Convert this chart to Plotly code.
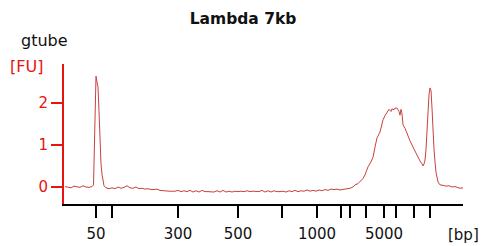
import plotly.graph_objects as go

# migration-time index (arbitrary units) and fluorescence [FU]
time_idx = [1, 4, 7, 10, 13, 16, 19, 22, 25, 28, 29.5,
            30, 30.5, 31, 32, 33, 34, 35, 36, 37, 38, 39, 40, 42, 45,
            48, 51, 54, 57, 60, 63, 66, 69, 72, 75, 78, 81, 84, 87, 90, 93, 96, 99,
            102, 105, 108, 111, 114, 117, 120, 123, 126, 129, 132, 135, 138, 141,
            144, 147, 150, 153, 156, 159, 162, 165, 168, 171, 174, 177, 180, 183,
            186, 189, 192, 195, 198, 201, 204, 207, 210, 213, 216, 219, 222, 225,
            228, 231, 234, 237, 240, 243, 246, 249, 252, 255, 258, 261, 264, 267,
            270, 273, 276, 280, 283, 286, 289, 291, 294, 296, 299, 301, 304, 307,
            309, 311, 313, 316, 319, 321, 323, 325, 327, 328, 330, 331, 333, 335,
            336, 337, 338, 339, 341, 344, 346, 349, 351, 354, 356, 358, 359, 360,
            361, 362, 363, 364, 365, 366, 367, 368, 369, 370, 371, 372, 374, 376,
            379, 382, 385, 388, 391, 394, 396, 398, 399]
fu = [0.01, 0.0, -0.02, 0.02, 0.01, -0.01, 0.03, 0.0, -0.01, 0.01, 0.05,
      0.6, 1.6, 2.2, 2.64, 2.5, 2.38, 1.8, 0.95, 0.55, 0.3, 0.12, 0.03, -0.02, -0.04,
      -0.02, -0.04, 0.0, -0.03, -0.01, 0.03, -0.02, -0.03, 0.0, -0.04, -0.03, -0.05, -0.04, -0.06, -0.06, -0.05, -0.08, -0.09,
      -0.1, -0.1, -0.1, -0.1, -0.08, -0.11, -0.09, -0.11, -0.08, -0.12, -0.09, -0.12, -0.08, -0.11,
      -0.11, -0.11, -0.12, -0.09, -0.12, -0.08, -0.12, -0.1, -0.12, -0.1, -0.11, -0.1, -0.11, -0.09,
      -0.11, -0.1, -0.1, -0.11, -0.08, -0.12, -0.09, -0.12, -0.09, -0.11, -0.11, -0.1, -0.12, -0.09,
      -0.11, -0.08, -0.11, -0.09, -0.1, -0.07, -0.1, -0.08, -0.1, -0.07, -0.09, -0.06, -0.08, -0.05,
      -0.06, -0.05, -0.07, -0.06, -0.05, -0.03, 0.0, 0.05, 0.08, 0.12, 0.2, 0.29, 0.48, 0.6,
      0.71, 0.95, 1.17, 1.31, 1.6, 1.7, 1.79, 1.85, 1.8, 1.86, 1.84, 1.88, 1.88, 1.8,
      1.71, 1.85, 1.75, 1.48, 1.4, 1.19, 1.1, 0.95, 0.85, 0.71, 0.62, 0.55, 0.5, 0.55,
      0.64, 0.9, 1.3, 1.9, 2.2, 2.36, 2.3, 1.88, 1.3, 0.9, 0.6, 0.35, 0.12, 0.05,
      0.04, 0.02, 0.03, 0.0, 0.01, -0.02, -0.03, -0.02, -0.03]

# ladder tick positions and labels
ladder_pos = [32, 48, 114, 174, 218, 253, 277, 286, 302, 320, 332, 350, 366]
ladder_txt = ["50", "", "300", "500", "", "1000", "", "", "", "5000", "", "", ""]
y_ticks = [0, 1, 2]

RED = "#e8140f"
LINE = "#c8413f"
FONT = "DejaVu Sans"

fig = go.Figure()
fig.add_trace(go.Scatter(x=time_idx, y=fu, mode="lines",
                         line=dict(color=LINE, width=1), hoverinfo="skip"))

fig.update_layout(
    width=496, height=246,
    margin=dict(l=64, r=33, t=64, b=42, autoexpand=False),
    paper_bgcolor="white", plot_bgcolor="white",
    showlegend=False,
    font=dict(family=FONT, size=15, color="#111111"),
    title=dict(text="<b>Lambda 7kb</b>", x=0.49, xanchor="center", y=0.925, yanchor="middle",
               xref="container", font=dict(family=FONT, size=15.5, color="#111111")),
    xaxis=dict(range=[0, 399], showgrid=False, zeroline=False, automargin=False,
               showline=True, linecolor="#000000", linewidth=2,
               ticks="outside", ticklen=12, tickwidth=2, tickcolor="#000000",
               ticklabelstandoff=3,
               tickmode="array", tickvals=ladder_pos, ticktext=ladder_txt,
               tickfont=dict(family=FONT, size=15, color="#111111")),
    yaxis=dict(range=[-0.405, 2.93], showgrid=False, zeroline=False, automargin=False,
               showline=True, linecolor=RED, linewidth=2,
               ticks="outside", ticklen=11, tickwidth=2, tickcolor=RED,
               tickmode="array", tickvals=y_ticks, ticktext=[str(v) for v in y_ticks],
               tickfont=dict(family=FONT, size=15, color=RED)),
    annotations=[
        dict(text="gtube", xref="paper", yref="paper", x=-0.048, y=1.165,
             xanchor="center", yanchor="middle", showarrow=False,
             font=dict(family=FONT, size=16, color="#111111")),
        dict(text="[FU]", xref="paper", yref="paper", x=-0.095, y=0.98,
             xanchor="center", yanchor="middle", showarrow=False,
             font=dict(family=FONT, size=16, color=RED)),
        dict(text="[bp]", xref="paper", yref="paper", x=1.0, y=-0.22,
             xanchor="center", yanchor="middle", showarrow=False,
             font=dict(family=FONT, size=15, color="#111111")),
    ],
)

fig.write_html("out.html", config={"displayModeBar": False},
               post_script="document.body.style.margin='0';")
